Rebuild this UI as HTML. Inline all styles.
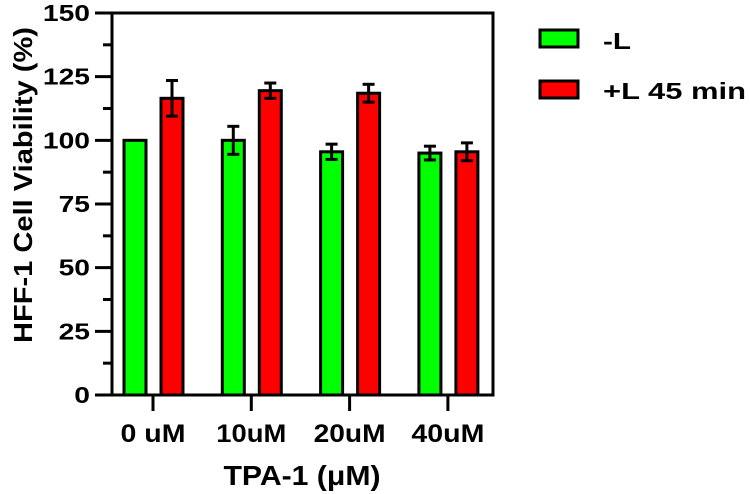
<!DOCTYPE html>
<html><head><meta charset="utf-8"><style>
body{margin:0;background:#fff;}
svg{display:block;font-family:"Liberation Sans",Arial,sans-serif;font-weight:bold;}
</style></head><body>
<svg id="chart" width="750" height="494" viewBox="0 0 750 494" xmlns="http://www.w3.org/2000/svg"></svg>
<script>
const categories = ["0 uM", "10uM", "20uM", "40uM"];
const seriesNames = ["-L", "+L 45 min"];
const greenValues = [100, 100, 95.5, 95];
const greenErrors = [0, 5.5, 3, 2.7];
const redValues = [116.5, 119.5, 118.5, 95.5];
const redErrors = [7, 3, 3.5, 3.5];
const yTicks = [0, 25, 50, 75, 100, 125, 150];

const svg = document.getElementById('chart');
const NS = 'http://www.w3.org/2000/svg';
const X0 = 112, X1 = 493, Y0 = 395, Y1 = 13, YMAX = 150;
const y = v => Y0 - (v / YMAX) * (Y0 - Y1);
const xc = i => 153 + i * 98.3;
function mk(tag, attrs, parent) {
  const e = document.createElementNS(NS, tag);
  for (const k in attrs) e.setAttribute(k, attrs[k]);
  (parent || svg).appendChild(e);
  return e;
}
function fit(t, w) {
  t.setAttribute('textLength', w);
  t.setAttribute('lengthAdjust', 'spacingAndGlyphs');
}
const colors = ['#00ff00', '#ff0000'];
const offsets = [-29, 8];
[greenValues, redValues].forEach((vals, s) => {
  const errs = s === 0 ? greenErrors : redErrors;
  vals.forEach((v, i) => {
    const bx = xc(i) + offsets[s];
    const r = mk('rect', {x: bx, y: y(v), width: 22, height: Y0 - y(v), fill: colors[s], stroke: '#000', 'stroke-width': 3});
    
    
    if (errs[i] > 0) {
      const cx = bx + 11;
      const g = mk('g', {stroke: '#000', 'stroke-width': 3});
      
      
      mk('line', {x1: cx, x2: cx, y1: y(v + errs[i]), y2: y(v - errs[i])}, g);
      mk('line', {x1: cx - 6, x2: cx + 6, y1: y(v + errs[i]), y2: y(v + errs[i])}, g);
      mk('line', {x1: cx - 6, x2: cx + 6, y1: y(v - errs[i]), y2: y(v - errs[i])}, g);
    }
  });
});
const frame = mk('rect', {x: X0, y: Y1, width: X1 - X0, height: Y0 - Y1, fill: 'none', stroke: '#000', 'stroke-width': 3});


for (let v = 0; v <= YMAX; v += 12.5) {
  const major = v % 25 === 0;
  mk('line', {x1: major ? 95 : 103, x2: X0, y1: y(v), y2: y(v), stroke: '#000', 'stroke-width': 3});
}
yTicks.forEach(v => {
  const t = mk('text', {x: 90, y: y(v) + 8, 'text-anchor': 'end', 'font-size': 23});
  t.textContent = v;
  fit(t, String(v).length * 15.7);
  
  
});
const xw = [65, 70, 72, 73];
categories.forEach((c, i) => {
  mk('line', {x1: xc(i), x2: xc(i), y1: Y0, y2: Y0 + 16, stroke: '#000', 'stroke-width': 3});
  const t = mk('text', {x: xc(i), y: 442, 'text-anchor': 'middle', 'font-size': 25});
  t.textContent = c;
  fit(t, xw[i]);
  
  
});
const xt = mk('text', {x: 302, y: 485, 'text-anchor': 'middle', 'font-size': 28});
xt.textContent = 'TPA-1 (μM)';
fit(xt, 157);


const yt = mk('text', {x: 0, y: 0, 'text-anchor': 'middle', 'font-size': 26, transform: 'translate(32,185) rotate(-90)'});
yt.textContent = 'HFF-1 Cell Viability (%)';
fit(yt, 316);


const lw = [28, 143];
seriesNames.forEach((n, s) => {
  const g = mk('g', {});
  
  
  mk('rect', {x: 540, y: 30 + s * 51, width: 38, height: 17, fill: colors[s], stroke: '#000', 'stroke-width': 3}, g);
  const t = mk('text', {x: 603, y: 49 + s * 50, 'font-size': 23}, g);
  t.textContent = n;
  fit(t, lw[s]);
});
</script>
</body></html>
